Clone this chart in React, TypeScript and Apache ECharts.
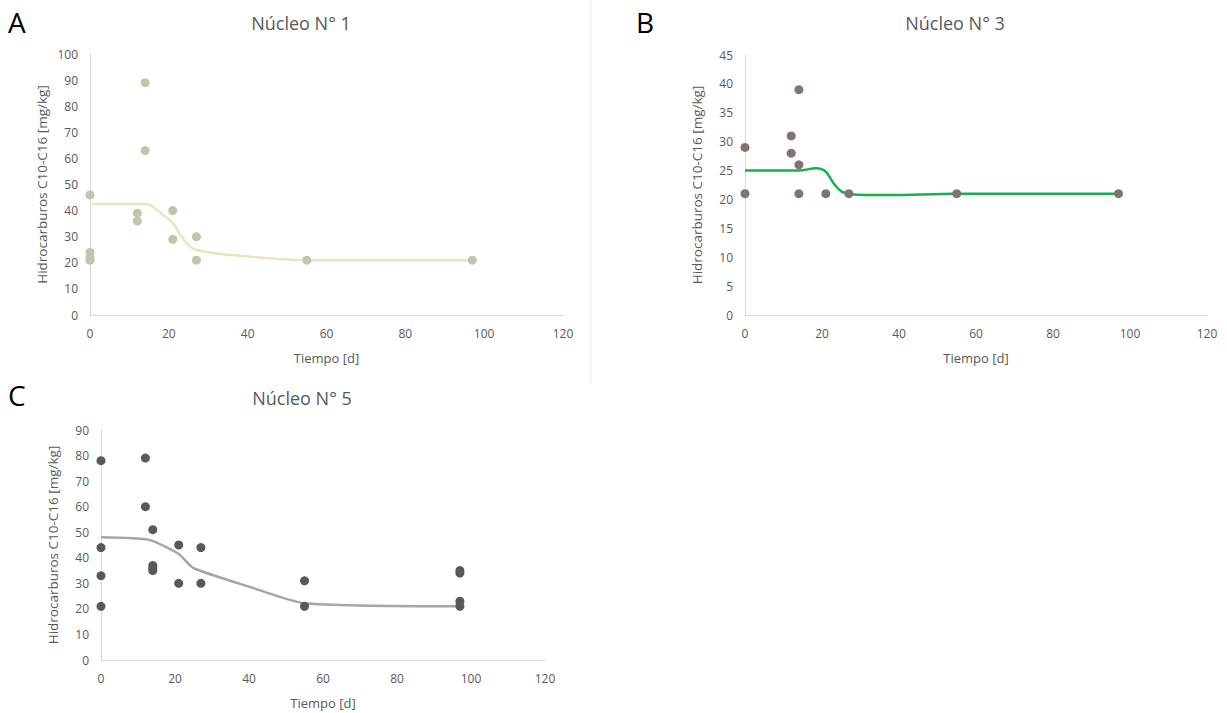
import React, { useEffect, useRef } from "react";
import * as echarts from "echarts";

// Núcleo N° 1 (panel A)
const n1Points: [number, number][] = [
  [0, 46], [0, 24], [0, 22], [0, 21],
  [12, 39], [12, 36],
  [14, 89], [14, 63],
  [21, 40], [21, 29],
  [27, 30], [27, 21],
  [55, 21], [97, 21],
];
const n1Curve: [number, number][] = [
  [0, 42.5], [14, 42.6], [18, 39], [21, 35.2], [24, 28.5], [27, 24.9], [40, 22.4], [55, 21], [97, 21],
];

// Núcleo N° 3 (panel B)
const n3Points: [number, number][] = [
  [0, 29], [0, 21],
  [12, 31], [12, 28],
  [14, 39], [14, 26], [14, 21],
  [21, 21], [27, 21], [55, 21], [97, 21],
];
const n3Curve: [number, number][] = [
  [0, 25], [14, 25], [18.5, 25.4], [21, 24.8], [23, 22.8], [25, 21.4], [27.5, 20.9], [37, 20.75], [55, 21], [97, 21],
];

// Núcleo N° 5 (panel C)
const n5Points: [number, number][] = [
  [0, 78], [0, 44], [0, 33], [0, 21],
  [12, 79], [12, 60],
  [14, 51], [14, 37], [14, 36], [14, 35],
  [21, 45], [21, 30],
  [27, 44], [27, 30],
  [55, 31], [55, 21],
  [97, 35], [97, 34], [97, 23], [97, 21],
];
const n5Curve: [number, number][] = [
  [0, 48], [13, 47], [21, 41.5], [25, 36], [40, 28.7], [55, 22.2], [97, 21],
];

const xTicksMax = 120;
const titles = ["Núcleo N° 1", "Núcleo N° 3", "Núcleo N° 5"];
const panelLetters = ["A", "B", "C"];
const yMaxes = [100, 45, 90];
const yIntervals = [10, 5, 10];
const xName = "Tiempo [d]";
const yName = "Hidrocarburos C10-C16 [mg/kg]";

const FONT = "'Open Sans', sans-serif";
const GREY_TXT = "#595959";

export default function App() {
  const ref = useRef<HTMLDivElement>(null);
  useEffect(() => {
    if (!ref.current) return;
    const chart = echarts.init(ref.current, null, { renderer: "svg" });
    const grids = [
      { left: 90, top: 54, width: 473, height: 261 },
      { left: 745, top: 55, width: 462, height: 260 },
      { left: 101, top: 430, width: 444, height: 230 },
    ];
    const xAxes = grids.map((_, i) => ({
      type: "value",
      gridIndex: i,
      min: 0,
      max: xTicksMax,
      interval: 20,
      name: xName,
      nameLocation: "middle",
      nameGap: 36,
      nameTextStyle: { color: GREY_TXT, fontSize: 13, fontFamily: FONT },
      axisLine: { show: true, lineStyle: { color: "#D9D9D9", width: 1 } },
      axisTick: { show: false },
      splitLine: { show: false },
      axisLabel: { color: GREY_TXT, fontSize: 12, fontFamily: FONT, margin: 12 },
    }));
    const yAxes = grids.map((_, i) => ({
      type: "value",
      gridIndex: i,
      min: 0,
      max: yMaxes[i],
      interval: yIntervals[i],
      name: yName,
      nameLocation: "middle",
      nameRotate: 90,
      nameGap: 41,
      nameTextStyle: { color: GREY_TXT, fontSize: 13.5, fontFamily: FONT },
      axisLine: { show: true, lineStyle: { color: "#D9D9D9", width: 1 } },
      axisTick: { show: false },
      splitLine: { show: false },
      axisLabel: { color: GREY_TXT, fontSize: 12, fontFamily: FONT, margin: 12 },
    }));
    const lineColors = ["#EFE2BF", "#17B04C", "#A6A6A6"];
    const dotColors = ["#BFC6A9", "#807473", "#595959"];
    const smoothness = [0.35, 0.35, 0.2];
    const curves = [n1Curve, n3Curve, n5Curve];
    const pts = [n1Points, n3Points, n5Points];
    const series: any[] = [];
    for (let i = 0; i < 3; i++) {
      series.push({
        type: "line",
        xAxisIndex: i,
        yAxisIndex: i,
        data: curves[i],
        smooth: smoothness[i],
        showSymbol: false,
        lineStyle: { color: lineColors[i], width: 2.5 },
        z: 2,
      });
      series.push({
        type: "scatter",
        xAxisIndex: i,
        yAxisIndex: i,
        data: pts[i],
        symbolSize: 9,
        itemStyle: { color: dotColors[i], opacity: 1 },
        z: 3,
      });
    }
    const titleCenters = [
      [301, 14],
      [955, 14],
      [302, 389],
    ];
    const letterPos = [
      [8, 8],
      [636, 8],
      [8, 381],
    ];
    chart.setOption({
      animation: false,
      backgroundColor: "#FFFFFF",
      grid: grids,
      xAxis: xAxes,
      yAxis: yAxes,
      series,
      graphic: [
        ...titles.map((t, i) => ({
          type: "text",
          x: titleCenters[i][0],
          y: titleCenters[i][1],
          style: {
            text: t,
            fill: GREY_TXT,
            font: `18px ${FONT}`,
            textAlign: "center",
            textVerticalAlign: "top",
          },
        })),
        ...panelLetters.map((t, i) => ({
          type: "text",
          x: letterPos[i][0],
          y: letterPos[i][1],
          style: {
            text: t,
            fill: "#000000",
            font: `28px ${FONT}`,
            textAlign: "left",
            textVerticalAlign: "top",
          },
        })),
        {
          type: "line",
          shape: { x1: 591, y1: 0, x2: 591, y2: 385 },
          style: { stroke: "#F0F0F0", lineWidth: 1 },
        },
      ],
    });
    return () => chart.dispose();
  }, []);
  return (
    <div
      ref={ref}
      style={{ position: "fixed", left: 0, top: 0, width: 1227, height: 713 }}
    />
  );
}
